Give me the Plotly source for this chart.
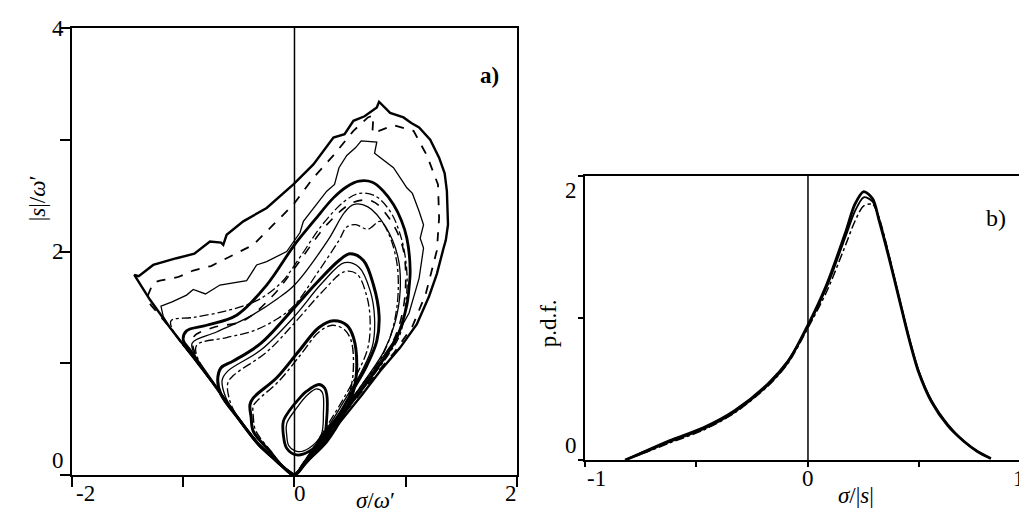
import plotly.graph_objects as go

# ---- panel a) : contours in the (sigma/omega', |s|/omega') plane ----
# each contour is a closed path (origin -> wedge -> top -> right side -> origin)
a_outer_x = [0, -0.1, -0.2, -0.32, -0.5, -0.7, -0.9, -1.12, -1.3, -1.44, -1.40, -1.36, -1.27, -1.06, -0.90,
             -0.76, -0.66, -0.64, -0.61, -0.46, -0.25, -0.01, 0.17, 0.35, 0.45, 0.53, 0.63, 0.74, 0.76, 0.86,
             0.98, 1.05, 1.12, 1.22, 1.30, 1.35, 1.37, 1.38, 1.36, 1.34, 1.28, 1.21, 1.10, 0.95, 0.77, 0.60,
             0.44, 0.28, 0.17, 0.07, 0]
a_outer_y = [0, 0.07, 0.16, 0.27, 0.50, 0.78, 1.04, 1.32, 1.57, 1.79, 1.78, 1.81, 1.88, 1.94, 1.98,
             2.09, 2.08, 2.06, 2.15, 2.27, 2.39, 2.60, 2.78, 3.02, 3.05, 3.17, 3.21, 3.29, 3.34, 3.24,
             3.20, 3.15, 3.11, 3.00, 2.84, 2.70, 2.54, 2.24, 2.10, 2.03, 1.80, 1.60, 1.35, 1.14, 0.93, 0.71,
             0.51, 0.31, 0.18, 0.07, 0]

a_dash1_x = [0, -0.1, -0.2, -0.32, -0.5, -0.7, -0.9, -1.12, -1.29, -1.33, -1.27, -1.21, -1.05, -0.91, -0.75,
             -0.61, -0.37, -0.19, -0.01, 0.17, 0.35, 0.53, 0.66, 0.71, 0.70, 0.76, 0.89, 1.07, 1.19, 1.29,
             1.30, 1.28, 1.18, 1.06, 0.90, 0.73, 0.42, 0.16, 0]
a_dash1_y = [0, 0.07, 0.16, 0.27, 0.50, 0.78, 1.04, 1.32, 1.52, 1.58, 1.72, 1.74, 1.77, 1.83, 1.87,
             1.94, 2.06, 2.24, 2.42, 2.66, 2.86, 3.08, 3.20, 3.22, 3.06, 3.08, 3.13, 3.08, 2.86, 2.60,
             2.30, 2.01, 1.62, 1.33, 1.10, 0.90, 0.52, 0.18, 0]

a_thin1_x = [0, -0.1, -0.2, -0.32, -0.5, -0.7, -0.9, -1.12, -1.18, -1.20, -1.10, -0.97, -0.91, -0.80, -0.67,
             -0.55, -0.43, -0.34, -0.25, -0.07, 0.05, 0.08, 0.29, 0.36, 0.40, 0.47, 0.55, 0.60, 0.74, 0.72,
             0.80, 0.89, 1.01, 1.06, 1.12, 1.16, 1.13, 1.16, 1.12, 1.03, 0.88, 0.70, 0.40, 0.15, 0]
a_thin1_y = [0, 0.07, 0.16, 0.27, 0.50, 0.78, 1.04, 1.32, 1.42, 1.51, 1.55, 1.61, 1.66, 1.62, 1.70,
             1.72, 1.74, 1.88, 1.91, 2.00, 2.17, 2.27, 2.54, 2.60, 2.75, 2.86, 2.93, 2.99, 2.98, 2.88,
             2.82, 2.75, 2.57, 2.52, 2.36, 2.24, 2.12, 2.03, 1.76, 1.45, 1.18, 0.92, 0.52, 0.17, 0]

a_dd1_x = [0, -0.1, -0.2, -0.32, -0.5, -0.7, -0.9, -1.08, -1.11, -0.91, -0.61, -0.34, -0.12, 0.05, 0.25,
           0.45, 0.58, 0.72, 0.86, 0.96, 1.01, 1.00, 0.95, 0.86, 0.70, 0.45, 0.20, 0.07, 0]
a_dd1_y = [0, 0.07, 0.16, 0.27, 0.50, 0.78, 1.04, 1.27, 1.38, 1.41, 1.47, 1.56, 1.72, 1.95, 2.24,
           2.45, 2.52, 2.50, 2.36, 2.12, 1.82, 1.52, 1.26, 1.10, 0.88, 0.56, 0.24, 0.08, 0]

a_thick1_x = [0, -0.1, -0.2, -0.32, -0.5, -0.7, -0.94, -1.00, -0.97, -0.79, -0.52, -0.25, 0.0, 0.18, 0.35,
              0.47, 0.58, 0.70, 0.80, 0.89, 0.96, 1.01, 1.04, 1.03, 1.01, 0.92, 0.74, 0.50, 0.26, 0.10, 0]
a_thick1_y = [0, 0.07, 0.16, 0.27, 0.50, 0.78, 1.12, 1.21, 1.29, 1.34, 1.43, 1.70, 2.06, 2.28, 2.48,
              2.58, 2.63, 2.62, 2.54, 2.42, 2.28, 2.12, 1.83, 1.68, 1.52, 1.23, 0.95, 0.63, 0.32, 0.12, 0]

a_dash2_x = [0, -0.1, -0.2, -0.32, -0.5, -0.7, -0.89, -0.91, -0.73, -0.46, -0.20, 0.0, 0.30, 0.53, 0.70,
             0.85, 0.97, 1.00, 0.97, 0.88, 0.70, 0.46, 0.24, 0.08, 0]
a_dash2_y = [0, 0.07, 0.16, 0.27, 0.50, 0.78, 1.08, 1.23, 1.32, 1.38, 1.60, 1.85, 2.25, 2.44, 2.45,
             2.30, 2.05, 1.75, 1.45, 1.18, 0.90, 0.58, 0.30, 0.10, 0]

a_thin2_x = [0, -0.1, -0.2, -0.32, -0.5, -0.7, -0.88, -0.92, -0.70, -0.40, -0.15, 0.0, 0.30, 0.45, 0.53,
             0.66, 0.82, 0.93, 0.95, 0.90, 0.80, 0.62, 0.40, 0.20, 0.07, 0]
a_thin2_y = [0, 0.07, 0.16, 0.27, 0.50, 0.78, 1.04, 1.18, 1.28, 1.42, 1.58, 1.70, 2.10, 2.35, 2.42,
             2.40, 2.22, 1.95, 1.65, 1.35, 1.10, 0.83, 0.52, 0.25, 0.08, 0]

a_dd2_x = [0, -0.1, -0.2, -0.32, -0.5, -0.7, -0.86, -0.88, -0.61, -0.37, -0.15, 0.0, 0.20, 0.40, 0.47,
           0.55, 0.66, 0.77, 0.85, 0.92, 0.93, 0.88, 0.78, 0.60, 0.38, 0.18, 0.06, 0]
a_dd2_y = [0, 0.07, 0.16, 0.27, 0.50, 0.78, 1.02, 1.16, 1.23, 1.29, 1.40, 1.52, 1.80, 2.10, 2.22,
           2.24, 2.20, 2.27, 2.15, 1.90, 1.60, 1.30, 1.05, 0.80, 0.50, 0.23, 0.07, 0]

a_thick2_x = [0, -0.1, -0.2, -0.32, -0.5, -0.66, -0.69, -0.66, -0.55, -0.30, 0.0, 0.20, 0.40, 0.50, 0.62,
              0.71, 0.76, 0.74, 0.65, 0.52, 0.40, 0.22, 0.08, 0]
a_thick2_y = [0, 0.07, 0.16, 0.27, 0.50, 0.72, 0.85, 0.96, 1.02, 1.18, 1.50, 1.72, 1.92, 1.98, 1.92,
              1.70, 1.43, 1.20, 0.98, 0.75, 0.54, 0.30, 0.10, 0]

a_thin3_x = [0, -0.1, -0.2, -0.32, -0.5, -0.62, -0.65, -0.60, -0.30, 0.0, 0.25, 0.45, 0.58, 0.68, 0.72,
             0.70, 0.60, 0.48, 0.36, 0.20, 0.07, 0]
a_thin3_y = [0, 0.07, 0.16, 0.27, 0.50, 0.70, 0.85, 0.93, 1.12, 1.42, 1.72, 1.90, 1.86, 1.65, 1.40,
             1.15, 0.92, 0.72, 0.52, 0.28, 0.09, 0]

a_dd3_x = [0, -0.1, -0.2, -0.32, -0.5, -0.58, -0.60, -0.55, -0.25, 0.0, 0.25, 0.45, 0.56, 0.65, 0.68,
           0.66, 0.57, 0.45, 0.33, 0.18, 0.06, 0]
a_dd3_y = [0, 0.07, 0.16, 0.27, 0.50, 0.66, 0.82, 0.89, 1.10, 1.36, 1.64, 1.82, 1.80, 1.60, 1.38,
           1.14, 0.92, 0.70, 0.50, 0.26, 0.08, 0]

a_thick3_x = [0, -0.1, -0.22, -0.37, -0.39, -0.40, -0.37, -0.16, 0.04, 0.22, 0.35, 0.47, 0.53, 0.56, 0.53,
              0.44, 0.29, 0.11, 0]
a_thick3_y = [0, 0.07, 0.21, 0.39, 0.52, 0.63, 0.69, 0.87, 1.11, 1.32, 1.38, 1.34, 1.23, 0.98, 0.75,
              0.54, 0.30, 0.12, 0]

a_dd4_x = [0, -0.1, -0.21, -0.35, -0.37, -0.37, -0.33, -0.14, 0.05, 0.22, 0.34, 0.45, 0.51, 0.53, 0.50,
           0.42, 0.27, 0.10, 0]
a_dd4_y = [0, 0.07, 0.21, 0.40, 0.52, 0.62, 0.67, 0.84, 1.07, 1.28, 1.34, 1.30, 1.20, 0.97, 0.75,
           0.55, 0.31, 0.12, 0]

a_inner_x = [-0.10, -0.05, 0.03, 0.11, 0.22, 0.27, 0.29, 0.29, 0.26, 0.13, 0.02, -0.07, -0.10, -0.10]
a_inner_y = [0.48, 0.57, 0.67, 0.75, 0.81, 0.78, 0.72, 0.51, 0.33, 0.21, 0.18, 0.24, 0.36, 0.48]

a_inner2_x = [-0.07, 0.02, 0.12, 0.20, 0.25, 0.26, 0.24, 0.13, 0.03, -0.05, -0.07, -0.07]
a_inner2_y = [0.46, 0.60, 0.72, 0.77, 0.74, 0.55, 0.36, 0.24, 0.21, 0.26, 0.36, 0.46]

# axis ticks, panel a
a_xtick_vals = [-2, -1, 0, 1, 2]
a_xlabel_vals = [-2, 0, 2]
a_xlabel_text = ["-2", "0", "2"]
a_ytick_vals = [0, 1, 2, 3, 4]
a_ylabel_vals = [0, 2, 4]
a_ylabel_text = ["0", "2", "4"]

# ---- panel b) : p.d.f. of sigma/|s| ----
b_x = [-0.82, -0.75, -0.62, -0.47, -0.33, -0.18, -0.09, 0.0, 0.085, 0.17, 0.21, 0.25, 0.29, 0.32,
       0.364, 0.408, 0.452, 0.496, 0.554, 0.628, 0.70, 0.76, 0.82]
b_pdf_1 = [0, 0.045, 0.13, 0.22, 0.34, 0.53, 0.69, 0.95, 1.24, 1.61, 1.80, 1.89, 1.84, 1.68,
           1.42, 1.14, 0.86, 0.62, 0.41, 0.24, 0.13, 0.06, 0.01]
b_pdf_2 = [0, 0.05, 0.14, 0.23, 0.35, 0.54, 0.70, 0.94, 1.22, 1.58, 1.75, 1.85, 1.82, 1.69,
           1.43, 1.15, 0.87, 0.63, 0.42, 0.25, 0.13, 0.06, 0.01]
b_pdf_3 = [0, 0.04, 0.12, 0.21, 0.33, 0.52, 0.68, 0.93, 1.19, 1.52, 1.68, 1.79, 1.80, 1.70,
           1.44, 1.14, 0.86, 0.62, 0.41, 0.24, 0.13, 0.06, 0.01]

b_xtick_vals = [-1, -0.5, 0, 0.5, 1]
b_xlabel_vals = [-1, 0, 1]
b_xlabel_text = ["-1", "0", "1"]
b_ytick_vals = [0, 1, 2]
b_ylabel_vals = [0, 2]
b_ylabel_text = ["0", "2"]

FONT = "Liberation Serif"
TICKFONT = dict(family=FONT, size=23, color="black")
TITLEFONT = dict(family=FONT, size=23, color="black")

fig = go.Figure()

contours = [
    (a_outer_x, a_outer_y, "solid", 2.4, "linear"),
    (a_dash1_x, a_dash1_y, "dash", 1.8, "linear"),
    (a_thin1_x, a_thin1_y, "solid", 1.3, "linear"),
    (a_dd1_x, a_dd1_y, "dashdot", 1.3, "spline"),
    (a_thick1_x, a_thick1_y, "solid", 2.8, "spline"),
    (a_dash2_x, a_dash2_y, "dash", 1.6, "spline"),
    (a_thin2_x, a_thin2_y, "solid", 1.3, "spline"),
    (a_dd2_x, a_dd2_y, "dashdot", 1.3, "spline"),
    (a_thick2_x, a_thick2_y, "solid", 3.0, "spline"),
    (a_thin3_x, a_thin3_y, "solid", 1.3, "spline"),
    (a_dd3_x, a_dd3_y, "dashdot", 1.3, "spline"),
    (a_thick3_x, a_thick3_y, "solid", 3.0, "spline"),
    (a_dd4_x, a_dd4_y, "dashdot", 1.4, "spline"),
    (a_inner_x, a_inner_y, "solid", 2.8, "spline"),
    (a_inner2_x, a_inner2_y, "solid", 1.3, "spline"),
]
for cx, cy, dash, w, shape in contours:
    fig.add_trace(go.Scatter(x=cx, y=cy, mode="lines", xaxis="x", yaxis="y",
                             line=dict(color="black", width=w, dash=dash, shape=shape),
                             hoverinfo="skip"))

for py, dash, w in [(b_pdf_1, "solid", 2.8), (b_pdf_2, "solid", 1.8), (b_pdf_3, "dashdot", 1.5)]:
    fig.add_trace(go.Scatter(x=b_x, y=py, mode="lines", xaxis="x2", yaxis="y2",
                             line=dict(color="black", width=w, dash=dash, shape="spline",
                                       smoothing=0.8),
                             hoverinfo="skip"))

axis_common = dict(showgrid=False, zeroline=False, showline=True, linecolor="black",
                   linewidth=2, ticks="outside", tickcolor="black", tickwidth=1.5,
                   showticklabels=False)

fig.update_layout(
    width=1027, height=520,
    margin=dict(l=0, r=0, t=0, b=0),
    paper_bgcolor="white", plot_bgcolor="white",
    showlegend=False,
    font=dict(family=FONT, size=22, color="black"),
    xaxis=dict(domain=[0.0623, 0.4956], range=[-2, 2], tickvals=a_xtick_vals, ticklen=10,
               mirror=True, anchor="y", **axis_common),
    yaxis=dict(domain=[0.1019, 0.9615], range=[0, 4], tickvals=a_ytick_vals, ticklen=10,
               mirror=True, anchor="x", **axis_common),
    xaxis2=dict(domain=[0.5618, 0.9961], range=[-1, 1], tickvals=b_xtick_vals, ticklen=5,
                mirror=True, anchor="y2", **axis_common),
    yaxis2=dict(domain=[0.1308, 0.6769], range=[0, 2], tickvals=b_ytick_vals, ticklen=5,
                mirror=False, anchor="x2", **axis_common),
)

# sigma = 0 reference lines
fig.add_shape(type="line", xref="x", yref="y domain", x0=0, x1=0, y0=0, y1=1,
              line=dict(color="black", width=1.5))
fig.add_shape(type="line", xref="x2", yref="y2 domain", x0=0, x1=0, y0=0, y1=1,
              line=dict(color="black", width=1.5))

ann = []
# tick labels, panel a
for v, t in zip(a_xlabel_vals, a_xlabel_text):
    anchor = "left" if v == a_xlabel_vals[0] else ("right" if v == a_xlabel_vals[-1] else "center")
    ann.append(dict(x=v, xref="x", y=0, yref="y domain", text=t, showarrow=False, font=TICKFONT,
                    xanchor=anchor, yanchor="top", yshift=-4, xshift=6 if anchor == "center" else 2))
for v, t in zip(a_ylabel_vals, a_ylabel_text):
    ann.append(dict(x=0, xref="x domain", y=v, yref="y", text=t, showarrow=False, font=TICKFONT,
                    xanchor="right", xshift=-6, yanchor="bottom" if v == 0 else "middle"))
# tick labels, panel b (the last one sits against the page edge)
for v, t in zip(b_xlabel_vals, b_xlabel_text):
    anchor = "left" if v == b_xlabel_vals[0] else ("right" if v == b_xlabel_vals[-1] else "center")
    ann.append(dict(x=v, xref="x2", y=0, yref="y2 domain", text=t, showarrow=False, font=TICKFONT,
                    xanchor=anchor, yanchor="top", yshift=-4, xshift=-4 if anchor == "right" else 0))
for v, t in zip(b_ylabel_vals, b_ylabel_text):
    ann.append(dict(x=0, xref="x2 domain", y=v, yref="y2", text=t, showarrow=False, font=TICKFONT,
                    xanchor="right", xshift=-6, yanchor="bottom" if v == 0 else "top"))

# axis titles and panel letters
ann += [
    dict(x=0.0146, y=0.683, xref="paper", yref="paper", text="|<i>s</i>|/<i>ω</i>′",
         textangle=-90, showarrow=False, font=TITLEFONT),
    dict(x=0.358, y=0.025, xref="paper", yref="paper", text="<i>σ</i>/<i>ω</i>′",
         showarrow=False, font=TITLEFONT),
    dict(x=0.469, y=0.898, xref="paper", yref="paper", text="<b>a)</b>",
         showarrow=False, font=TITLEFONT),
    dict(x=0.526, y=0.394, xref="paper", yref="paper", text="p.d.f.",
         textangle=-90, showarrow=False, font=TITLEFONT),
    dict(x=0.845, y=0.035, xref="paper", yref="paper", text="<i>σ</i>/|<i>s</i>|",
         showarrow=False, font=TITLEFONT),
    dict(x=0.974, y=0.596, xref="paper", yref="paper", text="b)",
         showarrow=False, font=dict(family=FONT, size=24, color="black")),
]
fig.update_layout(annotations=ann)

fig.write_html("out.html")
